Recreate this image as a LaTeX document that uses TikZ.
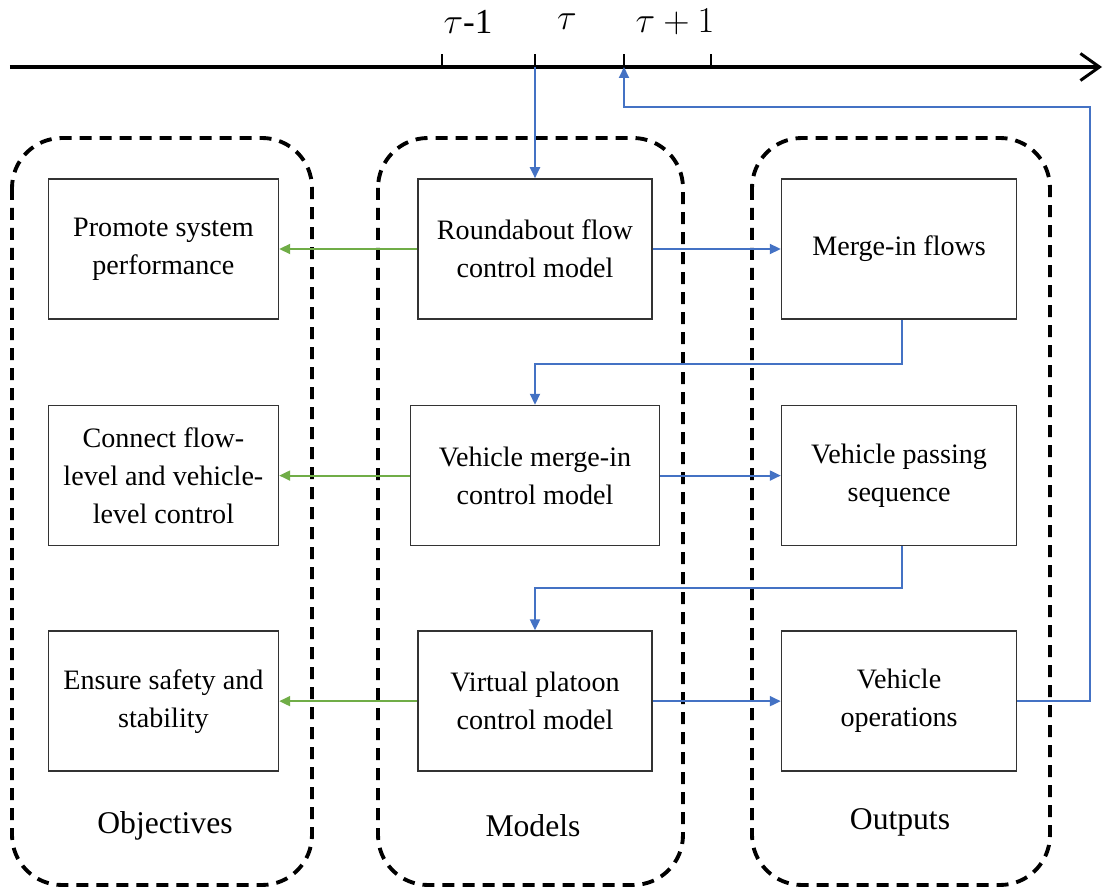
\documentclass[tikz,border=0pt]{standalone}
\usepackage{fontspec}
\setmainfont{Liberation Serif}
\usepackage{tikz}
\usetikzlibrary{positioning, shapes, arrows.meta, calc}

\definecolor{flowblue}{RGB}{68,114,196}
\definecolor{goalgreen}{RGB}{112,173,71}

\begin{document}
\begin{tikzpicture}[
	box/.style={rectangle, draw=black!80, line width=0.9pt, minimum width=4.6cm, minimum height=2.8cm, inner sep=0pt, align=center, font=\fontsize{16pt}{21.6pt}\selectfont},
	group/.style={draw, line width=2.2pt, dash pattern=on 0.24cm off 0.16cm, rounded corners=1cm},
	grouplabel/.style={font=\fontsize{18pt}{22pt}\selectfont},
	flow/.style={draw=flowblue, line width=1.1pt, -{Triangle[length=2.2mm, width=2mm]}},
	goal/.style={draw=goalgreen, line width=1.1pt, -{Triangle[length=2.2mm, width=2mm]}},
	timeaxis/.style={line width=2.2pt, -{Straight Barb[length=3.8mm, width=5.4mm, line width=1.7pt]}},
	ticklabel/.style={font=\fontsize{20pt}{24pt}\selectfont}
	]
	\useasboundingbox (0,0) rectangle (22.16,-17.76);

	% Asse dei tempi
	\coordinate (axis-start) at (0.2,-1.34);
	\coordinate (axis-end) at (22.04,-1.34);
	\draw[timeaxis] (axis-start) -- (axis-end);
	\coordinate (tick-prev) at (8.84,-1.34);
	\coordinate (tick-now) at (10.7,-1.34);
	\coordinate (tick-next) at (12.48,-1.34);
	\coordinate (tick-after) at (14.22,-1.34);
	\foreach \t in {tick-prev, tick-now, tick-next, tick-after}
		\draw[line width=0.8pt] (\t) -- ++(0,0.26);
	\node[ticklabel] (lab-prev) at (9.36,-0.44) {$\tau$-1};
	\node[ticklabel] (lab-now) at (11.34,-0.44) {$\tau$};
	\node[ticklabel] (lab-next) at (13.5,-0.44) {$\tau+1$};

	% Modelli
	\node[box, minimum width=4.68cm] (roundabout) at (10.7,-4.98) {Roundabout flow\\control model};
	\node[box, minimum width=4.98cm, below=1.7cm of roundabout] (mergein) {Vehicle merge-in\\control model};
	\node[box, minimum width=4.68cm, below=1.68cm of mergein] (platoon) {Virtual platoon\\control model};

	% Obiettivi
	\node[box, left=2.76cm of roundabout] (promote) {Promote system\\performance};
	\node[box, below=1.7cm of promote] (connect) {Connect flow-\\level and vehicle-\\level control};
	\node[box, below=1.68cm of connect] (ensure) {Ensure safety and\\stability};

	% Uscite
	\node[box, minimum width=4.7cm, right=2.56cm of roundabout] (mergeflows) {Merge-in flows};
	\node[box, minimum width=4.7cm, below=1.7cm of mergeflows] (passing) {Vehicle passing\\sequence};
	\node[box, minimum width=4.7cm, below=1.68cm of passing] (operations) {Vehicle\\operations};

	% Gruppi
	\draw[group] (0.24,-2.76) rectangle (6.24,-17.7);
	\draw[group] (7.56,-2.76) rectangle (13.66,-17.7);
	\draw[group] (15.04,-2.76) rectangle (21.0,-17.7);
	\node[grouplabel] (objectives) at (3.3,-16.52) {Objectives};
	\node[grouplabel] (models) at (10.66,-16.52) {Models};
	\node[grouplabel] (outputs) at (18.0,-16.44) {Outputs};

	% Connessioni
	\draw[flow] (tick-now) -- (roundabout);
	\draw[goal] (roundabout) -- (promote);
	\draw[goal] (mergein) -- (connect);
	\draw[goal] (platoon) -- (ensure);
	\draw[flow] (roundabout) -- (mergeflows);
	\draw[flow] (mergein) -- (passing);
	\draw[flow] (platoon) -- (operations);
	\draw[flow] ([xshift=0.05cm]mergeflows.south) -- ++(0,-0.88) -| (mergein.north);
	\draw[flow] ([xshift=0.05cm]passing.south) -- ++(0,-0.84) -| (platoon.north);

	% Ritorno al tempo successivo
	\coordinate (back) at (21.8,-2.14);
	\draw[flow] (operations.east) -| (back) -| (tick-next);
\end{tikzpicture}
\end{document}
